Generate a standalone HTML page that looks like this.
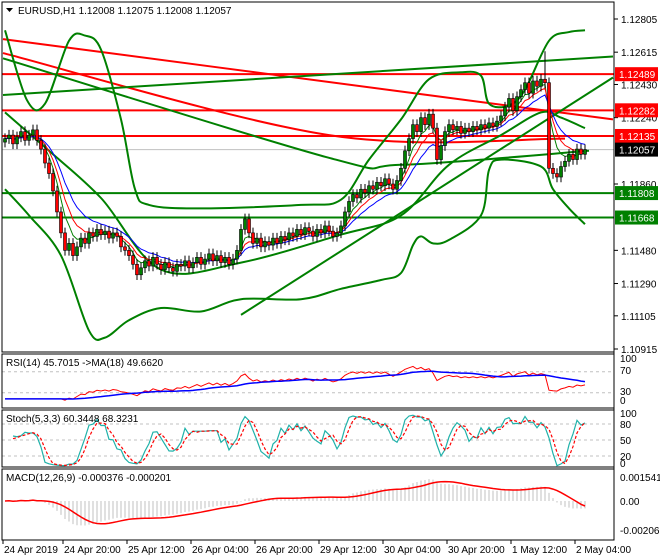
<!DOCTYPE html>
<html><head><meta charset="utf-8">
<style>
html,body{margin:0;padding:0;background:#fff;}
svg{display:block;font-family:"Liberation Sans",sans-serif;}
text{font-size:10px;}
</style></head>
<body>
<svg id="chart" width="660" height="560" viewBox="0 0 660 560" xmlns="http://www.w3.org/2000/svg">
<rect x="0" y="0" width="660" height="560" fill="#fff"/>
<g id="main"></g>
<g id="rsi"></g>
<g id="stoch"></g>
<g id="macd"></g>
<g id="taxis"></g>
</svg>
<script>
// ---- data ----
const closes=[1.1212,1.1214,1.1209,1.1213,1.1216,1.1211,1.1214,1.1217,1.1211,1.1206,
1.1198,1.1192,1.1182,1.1170,1.1158,1.1148,1.1152,1.1145,
1.1150,1.1155,1.1152,1.1158,1.1156,1.1160,1.1157,1.1159,1.1155,1.1158,1.1156,1.1150,1.1148,1.1145,
1.1140,1.1134,1.1138,1.1142,1.1139,1.1144,1.1140,1.1137,1.1141,1.1138,1.1136,1.1140,1.1139,1.1142,1.1138,1.1141,1.1144,1.1140,1.1143,1.1146,1.1142,1.1145,1.1141,1.1144,1.1140,1.1143,1.1148,
1.1160,1.1166,1.1158,1.1152,1.1155,
1.1150,1.1153,1.1151,1.1155,1.1152,1.1156,1.1154,1.1158,1.1156,1.1160,1.1157,1.1161,1.1159,1.1156,1.1160,1.1158,1.1162,1.1159,1.1156,1.1158,1.1162,
1.1170,1.1176,1.1180,1.1178,1.1183,1.1181,1.1185,1.1183,1.1187,1.1185,1.1189,1.1186,1.1183,1.1188,
1.1195,1.1205,1.1212,1.1220,1.1216,1.1224,1.1220,1.1226,1.1218,1.1200,1.1208,1.1216,
1.1220,1.1217,1.1219,1.1215,1.1218,1.1216,1.1219,1.1217,1.1220,1.1218,1.1221,1.1219,1.1222,1.1225,
1.1230,1.1235,1.1228,1.1236,1.1240,1.1244,1.1238,1.1245,1.1242,1.1246,
1.1244,1.1195,
1.1192,1.1190,1.1196,1.1199,1.1203,1.1200,1.1206,1.1203,1.12057];
const firstOpen=1.1210;
const spikeIdx=[135];
const spikeHigh=[1.1262];
const upperIdx=[0,5.5,10,16,20,24,29,32.5,36,49,74,84,91,99,106,114,119,121,126,130,136,141,145];
const upperPx=[1.1274,1.1234,1.1232,1.1268,1.1271,1.1263,1.1223,1.1183,1.1174,1.1172,1.1174,1.1177,1.1200,1.1223,1.1246,1.1250,1.1248,1.1232,1.1231,1.1240,1.1268,1.1273,1.1274];
const lowerIdx=[0,6,14,21,25,31,39,49,59,74,84,94,99,102,104,107,111,119,121,124,134,137,141,145];
const lowerPx=[1.1183,1.1168,1.1145,1.1102,1.1098,1.1108,1.1115,1.1113,1.1120,1.1120,1.1126,1.1131,1.1135,1.1151,1.1156,1.1152,1.1154,1.1168,1.1194,1.1200,1.1196,1.1183,1.1172,1.1163];
const midIdx=[0,11,24,39,59,84,99,111,124,134,139,145];
const midPx=[1.1227,1.1205,1.1178,1.1137,1.1141,1.1157,1.1168,1.1197,1.1214,1.1227,1.1224,1.1218];
const levelRed=[1.12489,1.12282,1.12135];
const levelGreen=[1.11808,1.11668];
const lastPrice=1.12057;
const priceTicks=["1.12805","1.12615","1.12430","1.12240","1.11860","1.11480","1.11290","1.11105","1.10915"];
const timeLabels=["24 Apr 2019","24 Apr 20:00","25 Apr 12:00","26 Apr 04:00","26 Apr 20:00","29 Apr 12:00","30 Apr 04:00","30 Apr 20:00","1 May 12:00","2 May 04:00"];
const timeIdx=[0,15,31,47,63,79,95,111,127,143];
const redAIdx=[-0.5,99,152], redAPx=[1.1269,1.1239,1.1223];
const redBIdx=[-0.5,81,140], redBPx=[1.1261,1.1214,1.1212];
const g1Idx=[-0.5,152], g1Px=[1.1237,1.1259];
const g2Idx=[-0.5,81,99,146], g2Px=[1.1258,1.1201,1.1197,1.1205];
const g3Idx=[59,152], g3Px=[1.1111,1.1247];

// ---- helpers ----
const NS="http://www.w3.org/2000/svg";
const X=i=>5+4*i;
const PY=p=>19+(1.12805-p)*17460;
function mk(tag,attrs,parent){const e=document.createElementNS(NS,tag);for(const k in attrs)e.setAttribute(k,attrs[k]);parent.appendChild(e);return e;}
const main=document.getElementById('main');
const defs=mk('defs',{},document.getElementById('chart'));
const cp=mk('clipPath',{id:'cm'},defs);mk('rect',{x:2,y:2,width:612,height:350},cp);
const mg=mk('g',{'clip-path':'url(#cm)'},main);

function smoothPath(pts){let d='M'+pts[0][0]+','+pts[0][1];
 for(let i=0;i<pts.length-1;i++){const p0=pts[Math.max(0,i-1)],p1=pts[i],p2=pts[i+1],p3=pts[Math.min(pts.length-1,i+2)];
  const c1=[p1[0]+(p2[0]-p0[0])/6,p1[1]+(p2[1]-p0[1])/6],c2=[p2[0]-(p3[0]-p1[0])/6,p2[1]-(p3[1]-p1[1])/6];
  d+=' C'+c1.map(v=>v.toFixed(1))+' '+c2.map(v=>v.toFixed(1))+' '+p2[0].toFixed(1)+','+p2[1].toFixed(1);}
 return d;}
function drawPoly(idx,px,color,w,name,smooth){
 const pts=idx.map((v,k)=>[X(v),PY(px[k])]);
 const e=mk('path',{d:smooth?smoothPath(pts):'M'+pts.map(p=>p[0]+','+p[1].toFixed(1)).join(' L'),fill:'none',stroke:color,'stroke-width':w},mg);
 
 
}
levelRed.forEach((p,k)=>{const e=mk('line',{x1:2,x2:614,y1:PY(p),y2:PY(p),stroke:'#ff0000','stroke-width':2},mg);
 
 });
levelGreen.forEach((p,k)=>{const e=mk('line',{x1:2,x2:614,y1:PY(p),y2:PY(p),stroke:'#008000','stroke-width':2},mg);
 
 });
mk('line',{x1:2,x2:614,y1:PY(lastPrice),y2:PY(lastPrice),stroke:'#c0c0c0','stroke-width':1},mg);
drawPoly(redAIdx,redAPx,'#ff0000',2,'red-trend-line-a',true);
drawPoly(redBIdx,redBPx,'#ff0000',2,'red-trend-line-b',true);
drawPoly(g1Idx,g1Px,'#008000',2,'green-trend-line',false);
drawPoly(g2Idx,g2Px,'#008000',2,'green-moving-average',true);
drawPoly(g3Idx,g3Px,'#008000',2,'rising-trend-line',false);
drawPoly(upperIdx,upperPx,'#008000',2,'bollinger-upper',true);
drawPoly(lowerIdx,lowerPx,'#008000',2,'bollinger-lower',true);
drawPoly(midIdx,midPx,'#008000',2,'bollinger-middle',true);
function ema(a,n){const k=2/(n+1);const r=[a[0]];for(let i=1;i<a.length;i++)r.push(a[i]*k+r[i-1]*(1-k));return r;}
[[5,'#008000'],[8,'#ff0000'],[13,'#0000ff']].forEach(([n,c])=>{const m=ema(closes,n);
 const e=mk('polyline',{points:m.map((v,i)=>X(i)+','+PY(v).toFixed(1)).join(' '),fill:'none',stroke:c,'stroke-width':1},mg);
 
 });
closes.forEach((c,i)=>{const o=i?closes[i-1]:firstOpen;
 let h=Math.max(o,c)+0.0003,l=Math.min(o,c)-0.0003;
 const s=spikeIdx.indexOf(i);if(s>=0)h=spikeHigh[s];
 const g=mk('g',{},mg);
 
 
 mk('line',{x1:X(i),x2:X(i),y1:PY(h),y2:PY(l),stroke:'#000','stroke-width':1},g);
 const t=PY(Math.max(o,c)),b=PY(Math.min(o,c));
 mk('rect',{x:X(i)-1.5,y:t,width:3,height:Math.max(1,b-t),fill:c>=o?'#008000':'#ff0000',stroke:'#000','stroke-width':0.6},g);
});
mk('rect',{x:2,y:2,width:612,height:350,fill:'none',stroke:'#000','stroke-width':1},main);
const tt=mk('text',{x:18,y:14},main);tt.textContent='EURUSD,H1  1.12008 1.12075 1.12008 1.12057';


mk('polygon',{points:'6,8 13,8 9.5,12',fill:'#000'},main);
priceTicks.forEach(t=>{const y=PY(parseFloat(t));
 mk('line',{x1:614,x2:618,y1:y,y2:y,stroke:'#000'},main);
 const e=mk('text',{x:621,y:y+4},main);e.textContent=t;
 
 });
function box(p,bg){const y=PY(p);mk('rect',{x:615,y:y-7,width:43,height:14,fill:bg},main);
 const e=mk('text',{x:619,y:y+4,fill:'#fff'},main);e.textContent=p.toFixed(5);
 
 }
levelRed.forEach(p=>box(p,'#ff0000'));levelGreen.forEach(p=>box(p,'#008000'));box(lastPrice,'#000');

function panel(g,y0,y1,name){mk('rect',{x:2,y:y0,width:612,height:y1-y0,fill:'none',stroke:'#000'},g);}
function sma(a,n){return a.map((v,i)=>{if(i<n-1)return null;let s=0;for(let j=i-n+1;j<=i;j++)s+=a[j];return s/n;});}
function line(g,vals,yf,color,w,dash,name){const pts=[];vals.forEach((v,i)=>{if(v!==null)pts.push(X(i)+','+yf(v).toFixed(1));});
 const e=mk('polyline',{points:pts.join(' '),fill:'none',stroke:color,'stroke-width':w},g);if(dash)e.setAttribute('stroke-dasharray',dash);
 
 }
function label(g,x,y,t,name){const e=mk('text',{x:x,y:y},g);e.textContent=t;
 
 }
function hdash(g,y){mk('line',{x1:2,x2:614,y1:y,y2:y,stroke:'#c0c0c0','stroke-dasharray':'3,3'},g);}
// RSI
const rg=document.getElementById('rsi');
const RY=v=>408.5-0.525*v;
const rsi=[];{let ag=0,al=0;for(let i=0;i<closes.length;i++){if(i===0){rsi.push(null);continue;}const d=closes[i]-closes[i-1];const g=Math.max(d,0),l=Math.max(-d,0);
 if(i<=14){ag+=g/14;al+=l/14;rsi.push(null);continue;}ag=(ag*13+g)/14;al=(al*13+l)/14;rsi.push(al===0?100:100-100/(1+ag/al));}}
const r0=rsi.find(v=>v!==null);for(let i=0;i<rsi.length;i++)if(rsi[i]===null)rsi[i]=r0*0.9+4;
hdash(rg,RY(70));hdash(rg,RY(30));
const rsiMa=sma(rsi,18).map((v,i)=>v===null?rsi.slice(0,i+1).reduce((a,b)=>a+b,0)/(i+1):v);
line(rg,rsi,RY,'#ff0000',1,null,'rsi-line');
line(rg,rsiMa,RY,'#0000ff',1.5,null,'rsi-ma-line');
panel(rg,354,408);
label(rg,6,366,'RSI(14) 45.7015  ->MA(18) 49.6620','rsi-label');
[['100',362],['70',374],['30',395],['0',404]].forEach(([t,y])=>label(rg,620,y,t,'rsi-tick'));
// Stoch
const sg=document.getElementById('stoch');
const SY=v=>466.7-0.533*v;
const raw=closes.map((c,i)=>{let h=-1,l=9;for(let j=Math.max(0,i-4);j<=i;j++){const o=j?closes[j-1]:firstOpen;h=Math.max(h,Math.max(o,closes[j])+0.0001);l=Math.min(l,Math.min(o,closes[j])-0.0001);}return 100*(c-l)/(h-l);});
const kk=sma(raw,3),dd=sma(kk.map(v=>v===null?50:v),3);
hdash(sg,SY(80));hdash(sg,SY(50));hdash(sg,SY(20));
line(sg,kk,SY,'#20b2aa',1.2,null,'stoch-k-line');
line(sg,dd,SY,'#ff0000',1.2,'3,2','stoch-d-line');
panel(sg,410,467);
label(sg,6,422,'Stoch(5,3,3) 60.3448 68.3231','stoch-label');
[['100',417],['80',428],['50',444],['20',460],['0',467]].forEach(([t,y])=>label(sg,620,y,t,'stoch-tick'));
// MACD
const mgp=document.getElementById('macd');
const MY=v=>501-v*14700;
const e12=ema(closes,12),e26=ema(closes,26);const macd=e12.map((v,i)=>v-e26[i]);
const sig=sma(macd,9).map((v,i)=>v===null?macd[i]:v);
macd.forEach((v,i)=>{const e=mk('line',{x1:X(i),x2:X(i),y1:MY(0),y2:MY(v),stroke:'#c0c0c0','stroke-width':1},mgp);
 
 });
line(mgp,sig,MY,'#ff0000',1.5,null,'macd-signal-line');
panel(mgp,469,540);
label(mgp,6,481,'MACD(12,26,9) -0.000376 -0.000201','macd-label');
[['0.001541',481],['0.00',505],['-0.002068',534]].forEach(([t,y])=>label(mgp,620,y,t,'macd-tick'));
// time axis
const tg=document.getElementById('taxis');
timeIdx.forEach((ix,k)=>{const x=X(ix)-2;mk('line',{x1:x,x2:x,y1:540,y2:544,stroke:'#000'},tg);
 label(tg,x+1,553,timeLabels[k],'time-tick');});
mk('line',{x1:614,x2:614,y1:2,y2:540,stroke:'#000'},tg);
</script>
</body></html>
